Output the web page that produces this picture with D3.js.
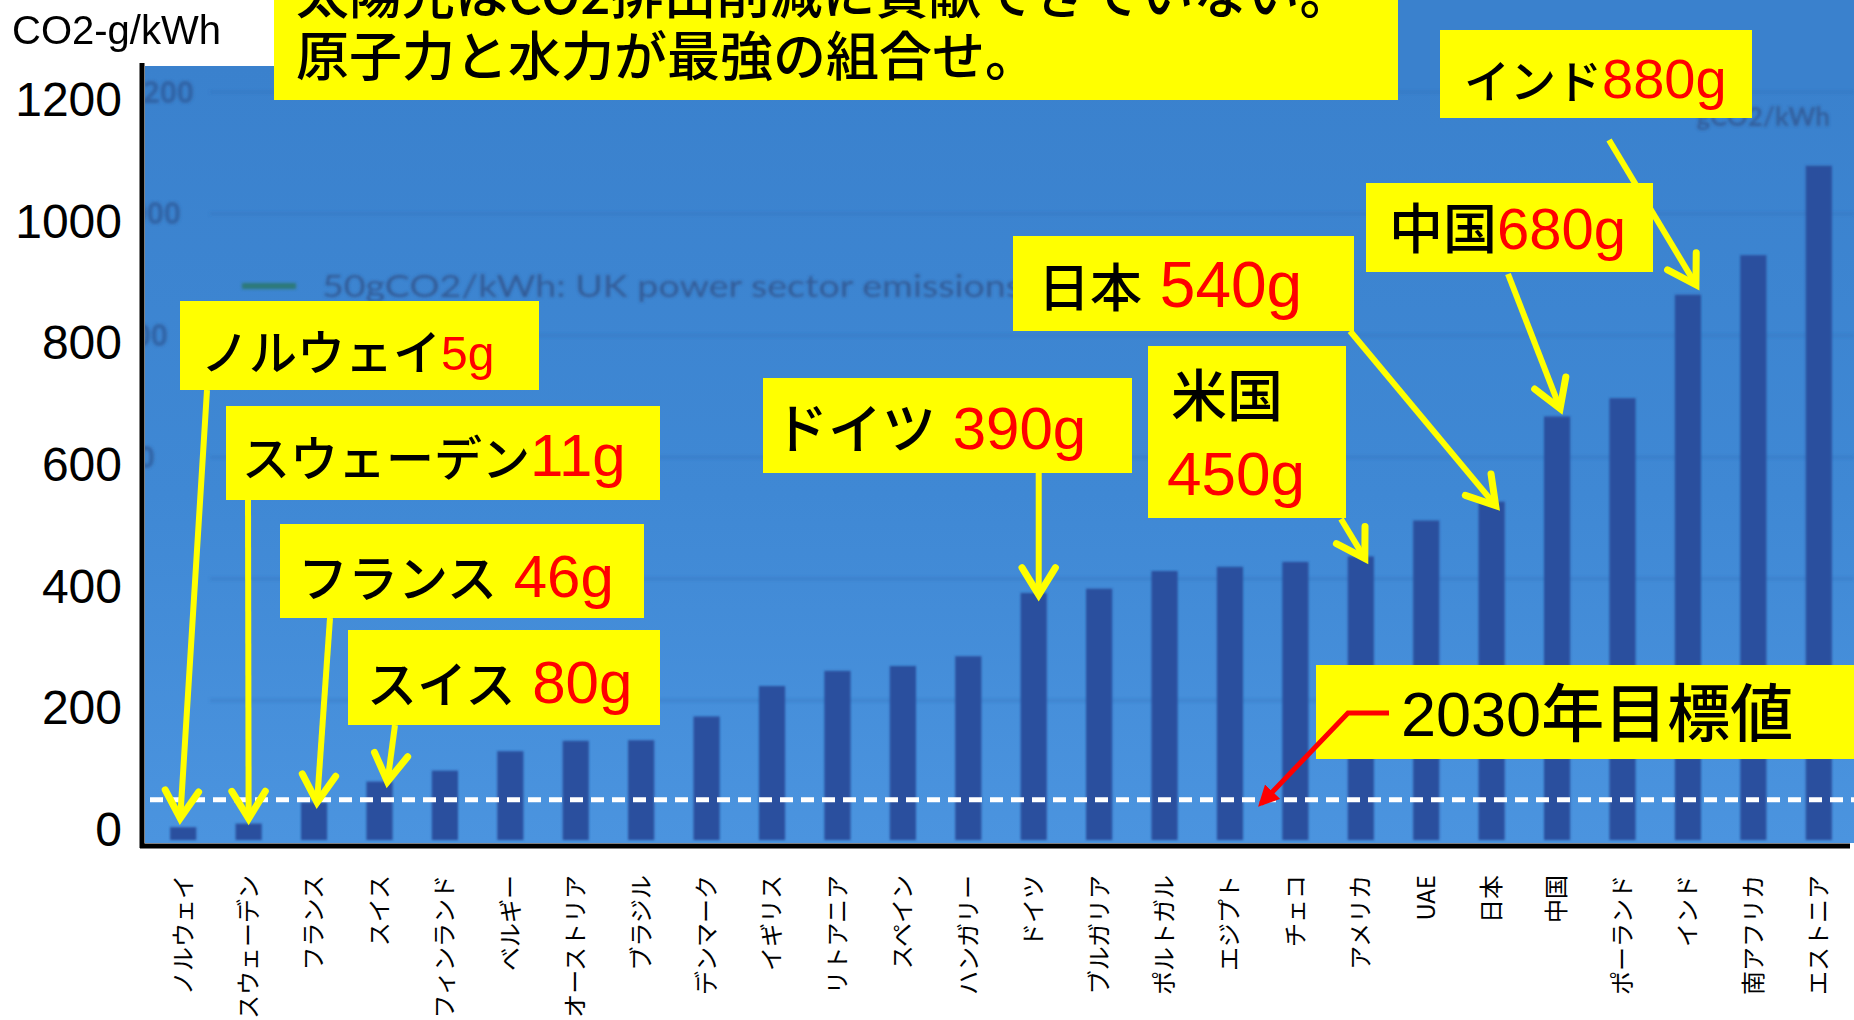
<!DOCTYPE html>
<html>
<head>
<meta charset="utf-8">
<script src="https://cdn.jsdelivr.net/npm/d3@7"></script>
<style>
  body { margin: 0; background: #fff; }
  svg { display: block; }
</style>
</head>
<body>
<svg id="chart" width="1854" height="1020"></svg>
<script>
// ---- data ----
const countries = ["ノルウェイ","スウェーデン","フランス","スイス","フィンランド","ベルギー","オーストリア","ブラジル","デンマーク","イギリス","リトアニア","スペイン","ハンガリー","ドイツ","ブルガリア","ポルトガル","エジプト","チェコ","アメリカ","UAE","日本","中国","ポーランド","インド","南アフリカ","エストニア"];
const emissions = [5, 11, 46, 80, 98, 130, 147, 148, 187, 237, 262, 270, 286, 390, 397, 426, 433, 441, 450, 509, 540, 680, 710, 880, 945, 1092];
const yTicks = [0, 200, 400, 600, 800, 1000, 1200];
const targetValue = 50;
const unitLabel = "CO2-g/kWh";
const titleLines = ["太陽光はCO2排出削減に貢献できていない。", "原子力と水力が最強の組合せ。"];
const targetLabel = "2030年目標値";
const calloutNames = ["ノルウェイ", "スウェーデン", "フランス", "スイス", "ドイツ", "米国", "日本", "中国", "インド"];
const calloutCountries = ["ノルウェイ", "スウェーデン", "フランス", "スイス", "ドイツ", "アメリカ", "日本", "中国", "インド"];
const legendText = "50gCO2/kWh: UK power sector emissions";
const backUnitText = "gCO2/kWh";

// ---- layout ----
const W = 1854, H = 1020;
const svg = d3.select("#chart");
const JP = "'Noto Sans CJK JP', 'Noto Sans', sans-serif";
const LAT = "'Liberation Sans', Arial, sans-serif";
const fmt = d3.format("d");

const x = d3.scaleBand().domain(countries).range([142, 1860]).paddingInner(0.6).paddingOuter(0.43);
// bars rise from the plot floor, which sits a little under the zero tick
const y = d3.scaleLinear().domain([-16, 1200]).range([840, 100]);
const floorY = y.range()[0];
const plotLeft = 145;

const defs = svg.append("defs");
const bg = defs.append("linearGradient").attr("id", "bgGrad").attr("x1", 0).attr("y1", 0).attr("x2", 0).attr("y2", 1);
bg.append("stop").attr("offset", "0%").attr("stop-color", "#3a81cd");
bg.append("stop").attr("offset", "55%").attr("stop-color", "#3f88d4");
bg.append("stop").attr("offset", "100%").attr("stop-color", "#4b94df");
defs.append("filter").attr("id", "soft").append("feGaussianBlur").attr("stdDeviation", 1.3);
defs.append("filter").attr("id", "ghost").append("feGaussianBlur").attr("stdDeviation", 1.6);
defs.append("clipPath").attr("id", "plotClip").append("rect")
  .attr("x", plotLeft).attr("y", 66).attr("width", W - plotLeft).attr("height", 843 - 66);
defs.append("marker").attr("id", "redHead").attr("viewBox", "0 0 10 10")
  .attr("refX", 8).attr("refY", 5).attr("markerWidth", 4.2).attr("markerHeight", 4.2)
  .attr("orient", "auto").append("path").attr("d", "M0,0 L10,5 L0,10 Z").attr("fill", "#ff0000");

// ---- plot background ----
svg.append("rect").attr("x", plotLeft).attr("y", 66).attr("width", W - plotLeft).attr("height", 843 - 66).attr("fill", "url(#bgGrad)");
svg.append("rect").attr("x", 274).attr("y", 0).attr("width", W - 274).attr("height", 90).attr("fill", "#3a81cd");

// ---- faded layer of the underlying source chart ----
const ghost = svg.append("g").attr("clip-path", "url(#plotClip)").append("g").attr("filter", "url(#ghost)");
ghost.selectAll("line.grid").data(yTicks.filter(d => d > 0)).join("line")
  .attr("class", "grid")
  .attr("x1", 210).attr("x2", W)
  .attr("y1", d => y(d) - 8).attr("y2", d => y(d) - 8)
  .attr("stroke", "#2f70bb").attr("stroke-width", 2).attr("opacity", 0.55);
// the old axis labels lean slightly, so each lower one sits a little further left;
// only the digits that reach past the new axis line are drawn
const gDigit = 17;
const gRight = d => 194 - (1200 - d) / 200 * 13;
ghost.selectAll("text.gtick").data(yTicks.filter(d => d >= 600)).join("text")
  .attr("class", "gtick")
  .attr("x", gRight).attr("y", d => y(d) - 8).attr("dy", "0.35em")
  .attr("text-anchor", "end")
  .attr("font-family", "'Open Sans', sans-serif").attr("font-weight", 700).attr("font-size", 30)
  .attr("fill", "#2d5a98").attr("opacity", 0.75)
  .text(d => fmt(d).slice(-Math.ceil((gRight(d) - plotLeft) / gDigit)));
ghost.append("line").attr("x1", 242).attr("x2", 296).attr("y1", 286).attr("y2", 286)
  .attr("stroke", "#2c7768").attr("stroke-width", 6).attr("opacity", 0.85);
ghost.append("text").attr("x", 322).attr("y", 297)
  .attr("font-family", "Lato, 'Open Sans', sans-serif").attr("font-size", 31)
  .attr("textLength", 700).attr("lengthAdjust", "spacingAndGlyphs")
  .attr("fill", "#2f4f86").attr("opacity", 0.8)
  .text(legendText);
ghost.append("text").attr("x", 1830).attr("y", 126).attr("text-anchor", "end")
  .attr("font-family", "Lato, 'Open Sans', sans-serif").attr("font-weight", 700).attr("font-size", 26)
  .attr("fill", "#2f4f86").attr("opacity", 0.7)
  .text(backUnitText);

// ---- bars ----
svg.append("g").attr("filter", "url(#soft)")
  .selectAll("rect").data(countries).join("rect")
  .attr("x", d => x(d))
  .attr("width", x.bandwidth())
  .attr("y", (d, i) => y(emissions[i]))
  .attr("height", (d, i) => floorY - y(emissions[i]))
  .attr("fill", "#2b4f9e");

// ---- 2030 target line ----
const ty = y(targetValue);
svg.append("line").attr("x1", 150).attr("x2", W).attr("y1", ty + 4).attr("y2", ty + 4)
  .attr("stroke", "#0d2a5a").attr("stroke-width", 3).attr("opacity", 0.35).attr("filter", "url(#soft)");
svg.append("line").attr("x1", 150).attr("x2", W).attr("y1", ty).attr("y2", ty)
  .attr("stroke", "#ffffff").attr("stroke-width", 5).attr("stroke-dasharray", "13 8");

// ---- axes ----
const yAxis = svg.append("g").attr("transform", "translate(142,0)")
  .call(d3.axisLeft(y).tickValues(yTicks).tickFormat(fmt).tickSize(0).tickPadding(20));
yAxis.select(".domain").remove();
yAxis.selectAll("text").attr("font-family", LAT).attr("font-size", 48).attr("fill", "#000");

const xAxis = svg.append("g").attr("transform", "translate(0,875)")
  .call(d3.axisBottom(x).tickSize(0).tickPadding(0));
xAxis.select(".domain").remove();
xAxis.selectAll("text")
  .attr("font-family", JP).attr("font-size", 24).attr("fill", "#000")
  .attr("transform", "rotate(-90)")
  .attr("text-anchor", "end")
  .attr("x", 0).attr("y", 0).attr("dy", "0.35em");

svg.append("line").attr("x1", 142).attr("x2", 142).attr("y1", 63).attr("y2", 848)
  .attr("stroke", "#000").attr("stroke-width", 5);
svg.append("line").attr("x1", 140).attr("x2", 1850).attr("y1", 846).attr("y2", 846)
  .attr("stroke", "#000").attr("stroke-width", 5);

svg.append("text").attr("x", 12).attr("y", 44)
  .attr("font-family", LAT).attr("font-size", 40).attr("fill", "#000")
  .text(unitLabel);

// ---- headline box ----
svg.append("rect").attr("x", 274).attr("y", -10).attr("width", 1124).attr("height", 110).attr("fill", "#ffff00");
svg.append("g").selectAll("text").data(titleLines).join("text")
  .attr("x", 296).attr("y", (d, i) => 14 + i * 62)
  .attr("font-family", JP).attr("font-weight", 500).attr("font-size", 53).attr("fill", "#000")
  .text(d => d);

// ---- callouts ----
const calloutLayout = [
  { box: [180, 301, 359, 89],  tx: 201,  cy: 349, nameSize: 48, valSize: 48, sep: "",  from: [207, 390],  dx: -3, gap: 9 },
  { box: [226, 406, 434, 94],  tx: 242,  cy: 455, nameSize: 48, valSize: 60, sep: "",  from: [248, 500],  dx: 0,  gap: 5 },
  { box: [280, 524, 364, 94],  tx: 298,  cy: 576, nameSize: 50, valSize: 60, sep: " ", from: [330, 618],  dx: 3,  gap: 0 },
  { box: [348, 630, 312, 95],  tx: 367,  cy: 682, nameSize: 50, valSize: 60, sep: " ", from: [395, 725],  dx: 8,  gap: 0 },
  { box: [763, 378, 369, 95],  tx: 774,  cy: 428, nameSize: 54, valSize: 60, sep: " ", from: null,        dx: 5,  gap: -2, fromY: 473 },
  { box: [1148, 346, 198, 172], tx: 1171, cy: 396, nameSize: 56, valSize: 62, sep: "\n", from: [1341, 519], dx: 4,  gap: -2, cy2: 473, tx2: 1167 },
  { box: [1013, 236, 341, 95], tx: 1038, cy: 286, nameSize: 52, valSize: 64, sep: " ", from: [1350, 331], dx: 4,  gap: -4 },
  { box: [1366, 183, 287, 89], tx: 1389, cy: 228, nameSize: 54, valSize: 58, sep: "",  from: [1508, 274], dx: 3,  gap: 8 },
  { box: [1440, 30, 312, 88],  tx: 1464, cy: 77,  nameSize: 46, valSize: 56, sep: "",  from: [1609, 140], dx: 8,  gap: 10 }
];

function yellowArrow(g, x1, y1, x2, y2) {
  g.append("line").attr("x1", x1).attr("y1", y1).attr("x2", x2).attr("y2", y2)
    .attr("stroke", "#ffff00").attr("stroke-width", 6);
  const a = Math.atan2(y2 - y1, x2 - x1), L = 32, s = 0.55;
  const p1 = [x2 - L * Math.cos(a - s), y2 - L * Math.sin(a - s)];
  const p2 = [x2 - L * Math.cos(a + s), y2 - L * Math.sin(a + s)];
  g.append("path").attr("d", `M${p1[0]},${p1[1]} L${x2},${y2} L${p2[0]},${p2[1]}`)
    .attr("fill", "none").attr("stroke", "#ffff00").attr("stroke-width", 7)
    .attr("stroke-linejoin", "miter").attr("stroke-linecap", "round");
}

const co = svg.append("g");
calloutNames.forEach((name, k) => {
  const L = calloutLayout[k];
  const idx = countries.indexOf(calloutCountries[k]);
  const v = emissions[idx];
  const g = co.append("g");
  g.append("rect").attr("x", L.box[0]).attr("y", L.box[1]).attr("width", L.box[2]).attr("height", L.box[3])
    .attr("fill", "#ffff00");
  if (L.sep === "\n") {
    g.append("text").attr("x", L.tx).attr("y", L.cy + 20)
      .attr("font-family", JP).attr("font-weight", 500).attr("font-size", L.nameSize).attr("fill", "#000").text(name);
    g.append("text").attr("x", L.tx2).attr("y", L.cy2 + 22)
      .attr("font-family", LAT).attr("font-size", L.valSize).attr("fill", "#ff0000").text(v + "g");
  } else {
    const t = g.append("text").attr("x", L.tx).attr("y", L.cy + 21);
    t.append("tspan").attr("font-family", JP).attr("font-weight", 500).attr("font-size", L.nameSize).attr("fill", "#000").text(name);
    t.append("tspan").attr("font-family", LAT).attr("font-size", L.valSize).attr("fill", "#ff0000")
      .style("white-space", "pre").text(L.sep + v + "g");
  }
  const tipX = x(calloutCountries[k]) + x.bandwidth() / 2 + L.dx;
  const tipY = y(v) - L.gap;
  const from = L.from || [tipX, L.fromY];
  yellowArrow(g, from[0], from[1], tipX, tipY);
});

// ---- 2030 target label ----
svg.append("rect").attr("x", 1316).attr("y", 665).attr("width", W - 1316).attr("height", 94).attr("fill", "#ffff00");
const tl = svg.append("text").attr("x", 1401).attr("y", 736)
  .attr("font-family", JP).attr("font-weight", 500).attr("font-size", 63).attr("fill", "#000");
tl.append("tspan").attr("font-family", LAT).attr("font-weight", 400).text(targetLabel.slice(0, 4));
tl.append("tspan").text(targetLabel.slice(4));
svg.append("path")
  .attr("d", `M1389,713 L1348,713 L1261,${ty + 4}`)
  .attr("fill", "none").attr("stroke", "#ff0000").attr("stroke-width", 5)
  .attr("marker-end", "url(#redHead)");
</script>
</body>
</html>
